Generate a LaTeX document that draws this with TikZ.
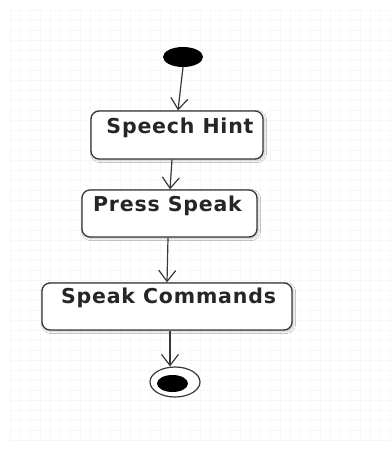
\documentclass[tikz,border=0pt]{standalone}
\usepackage{fontspec}
\setmainfont{DejaVu Sans}
\usetikzlibrary{arrows.meta,shapes.geometric,shadows.blur}
\definecolor{ink}{HTML}{383838}
\definecolor{gridline}{HTML}{F7F7F7}
\begin{document}
\begin{tikzpicture}[x=1pt,y=-1pt,
  activity/.style={draw=ink, line width=1.3pt, rounded corners=8pt, fill=white,
    blur shadow={shadow xshift=1.5pt, shadow yshift=-1.5pt, shadow blur steps=4, shadow opacity=25},
    inner sep=0pt},
  lbl/.style={font=\bfseries\fontsize{20.5}{22}\selectfont\addfontfeature{LetterSpace=4},
    text=black!85, inner sep=0pt, anchor=center},
  flow/.style={draw=ink, line width=1.2pt,
    -{Straight Barb[length=11pt,width=17pt,line width=1.2pt]}},
  startdot/.style={shape=ellipse, fill=black, minimum width=40pt, minimum height=20pt, inner sep=0pt},
  endring/.style={shape=ellipse, draw=ink, fill=white, line width=1.2pt, minimum width=50pt, minimum height=30pt, inner sep=0pt},
  enddot/.style={shape=ellipse, fill=black, minimum width=31pt, minimum height=17pt, inner sep=0pt}
]
\useasboundingbox (0,0) rectangle (390,454);
\fill[white] (0,0) rectangle (390,454);
% faint drawing-canvas grid
\foreach \gx in {10,20,...,390} \draw[gridline, line width=0.4pt] (\gx,10) -- (\gx,440);
\foreach \gy in {10,20,...,440} \draw[gridline, line width=0.4pt] (10,\gy) -- (390,\gy);

% start point
\node[startdot] (start) at (183,57) {};

% activities
\node[activity, minimum width=172pt, minimum height=48pt,
  label={[lbl, xshift=3pt, yshift=-17pt]90:Speech Hint}] (hint) at (177,135) {};
\node[activity, minimum width=175pt, minimum height=47pt,
  label={[lbl, xshift=-2pt, yshift=-16pt]90:Press Speak}] (press) at (169.5,213.5) {};
\node[activity, minimum width=250pt, minimum height=47pt,
  label={[lbl, xshift=1.5pt, yshift=-15pt]90:Speak Commands}] (cmds) at (167,306.5) {};

% end point: bullseye
\node[endring] (finish) at (175,382) {};
\node[enddot] (finishdot) at (172.5,383.5) {};

% transitions
\draw[flow] (start.south) -- ([xshift=1pt]hint.north);
\draw[flow] ([xshift=-5pt]hint.south) -- ([xshift=0.5pt]press.north);
\draw[flow] ([xshift=-1.5pt]press.south) -- (cmds.north);
\draw[flow] ([xshift=3pt]cmds.south) -- ([xshift=-5pt]finish.north);
\end{tikzpicture}
\end{document}
